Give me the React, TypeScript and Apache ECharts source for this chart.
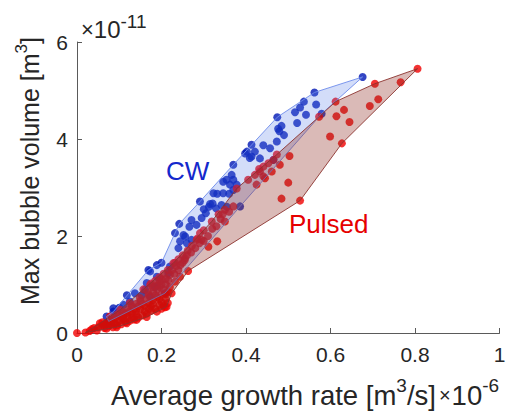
import React, { useEffect, useRef } from "react";
import * as echarts from "echarts";

type Pt = [number, number];

// Axis ticks (x in 1e-6 m^3/s, y in 1e-11 m^3)
const xTickValues = [0, 0.2, 0.4, 0.6, 0.8, 1];
const yTickValues = [0, 2, 4, 6];

// Continuous-wave measurements [growth rate, max volume]
const cwPoints: Pt[] = [
  [0.676, 5.28], [0.562, 4.96], [0.537, 4.77], [0.566, 4.71], [0.528, 4.65], [0.516, 4.55],
  [0.542, 4.5], [0.579, 4.52], [0.521, 4.33], [0.474, 4.45], [0.484, 4.27], [0.476, 4.21],
  [0.49, 4.08], [0.479, 4.16], [0.473, 3.95], [0.457, 3.81], [0.441, 3.87], [0.413, 3.88],
  [0.402, 3.74], [0.421, 3.74], [0.413, 3.64], [0.433, 3.6], [0.465, 3.57], [0.398, 3.7],
  [0.409, 3.61], [0.37, 3.47], [0.366, 3.26], [0.354, 3.16], [0.37, 3.16], [0.346, 3.12],
  [0.362, 3.06], [0.378, 3.06], [0.346, 2.88], [0.332, 2.87], [0.36, 2.87], [0.323, 2.88],
  [0.37, 2.95], [0.291, 2.71], [0.342, 2.64], [0.321, 2.67], [0.329, 2.57], [0.355, 2.6],
  [0.386, 2.61], [0.305, 2.47], [0.295, 2.37], [0.271, 2.33], [0.242, 2.25], [0.266, 2.19],
  [0.283, 2.23], [0.232, 2.06], [0.252, 2.02], [0.244, 1.89], [0.271, 1.92], [0.26, 1.85],
  [0.24, 1.75], [0.256, 1.99], [0.2, 1.45], [0.189, 1.4], [0.169, 1.3], [0.216, 1.23],
  [0.22, 1.37], [0.173, 1.27], [0.189, 1.16], [0.165, 1.03], [0.161, 0.89], [0.137, 0.82],
  [0.118, 0.78], [0.125, 0.65], [0.11, 0.58], [0.1, 0.52], [0.086, 0.51], [0.086, 0.44],
  [0.07, 0.34], [0.075, 0.24], [0.208, 0.82], [0.153, 0.78], [0.173, 0.75], [0.185, 0.95],
  [0.3, 2.55], [0.312, 2.6], [0.315, 2.66],
];

// Pulsed measurements [growth rate, max volume]
const pulsedPoints: Pt[] = [
  [0.806, 5.45], [0.766, 5.17], [0.705, 5.14], [0.713, 4.82], [0.693, 4.68], [0.612, 4.77],
  [0.632, 4.6], [0.614, 4.47], [0.645, 4.35], [0.573, 4.46], [0.599, 4.05], [0.627, 3.91],
  [0.503, 3.65], [0.473, 3.68], [0.465, 3.57], [0.453, 3.5], [0.441, 3.43], [0.48, 3.47],
  [0.461, 3.33], [0.433, 3.33], [0.421, 3.26], [0.405, 3.16], [0.441, 3.23], [0.425, 3.06],
  [0.445, 3.19], [0.5, 3.1], [0.378, 2.98], [0.484, 2.77], [0.528, 2.73], [0.431, 3.38],
  [0.35, 2.54], [0.37, 2.61], [0.319, 2.3], [0.332, 1.89], [0.311, 1.78], [0.291, 2.06],
  [0.283, 1.92], [0.295, 1.92], [0.256, 1.54], [0.263, 1.28], [0.228, 1.44], [0.244, 1.16],
  [0.216, 1.09], [0.196, 1.06], [0.173, 0.99], [0.232, 1.06], [0.224, 0.82], [0.212, 0.54],
  [0, 0],
  [0.157, 0.9], [0.175, 1.02], [0.185, 1.08], [0.195, 1.15], [0.205, 1.22], [0.215, 1.3],
  [0.232, 1.45], [0.24, 1.52], [0.25, 1.6], [0.262, 1.7], [0.272, 1.8], [0.27, 1.66],
  [0.25, 1.45], [0.24, 1.3], [0.23, 1.22], [0.2, 1.1], [0.19, 0.98], [0.21, 1.0],
  [0.22, 1.2], [0.285, 1.95], [0.3, 2.12], [0.335, 2.45], [0.34, 2.35], [0.3, 1.9],
  [0.35, 2.3], [0.36, 2.5],
  [0.18, 0.95], [0.2, 1.0], [0.21, 1.12], [0.225, 1.3], [0.235, 1.38], [0.245, 1.4],
  [0.255, 1.5], [0.26, 1.6], [0.28, 1.75], [0.29, 1.85], [0.31, 2.0], [0.32, 2.15],
  [0.33, 2.2], [0.345, 2.45],
  [0.02, 0.01], [0.03, 0.04], [0.035, 0.08], [0.047, 0.05], [0.05, 0.12], [0.054, 0.2],
  [0.06, 0.16], [0.065, 0.1], [0.07, 0.09], [0.07, 0.2], [0.075, 0.14], [0.078, 0.34],
  [0.08, 0.26], [0.085, 0.12], [0.09, 0.3], [0.09, 0.2], [0.094, 0.12], [0.095, 0.16],
  [0.1, 0.36], [0.1, 0.25], [0.102, 0.48], [0.105, 0.18], [0.11, 0.42], [0.11, 0.3],
  [0.115, 0.22], [0.118, 0.2], [0.12, 0.48], [0.12, 0.35], [0.125, 0.62], [0.125, 0.25],
  [0.13, 0.55], [0.13, 0.4], [0.135, 0.28], [0.14, 0.6], [0.14, 0.45], [0.141, 0.27],
  [0.145, 0.32], [0.149, 0.72], [0.15, 0.66], [0.15, 0.5], [0.155, 0.36], [0.16, 0.56],
  [0.165, 0.33], [0.165, 0.4], [0.168, 0.84], [0.17, 0.78], [0.17, 0.62], [0.175, 0.46],
  [0.18, 0.85], [0.18, 0.68], [0.185, 0.5], [0.189, 0.44], [0.19, 0.9], [0.19, 0.74],
  [0.195, 0.58], [0.196, 0.95], [0.2, 0.8], [0.2, 0.64], [0.205, 0.56], [0.208, 0.53],
  [0.21, 0.7], [0.215, 0.62], [0.215, 0.85], [0.22, 0.95],
  [0.04, 0.1], [0.06, 0.22], [0.065, 0.18], [0.08, 0.18], [0.085, 0.28], [0.095, 0.38],
  [0.105, 0.32], [0.115, 0.4], [0.125, 0.45], [0.13, 0.32], [0.135, 0.5], [0.145, 0.55],
  [0.155, 0.6], [0.16, 0.45], [0.165, 0.7], [0.175, 0.55], [0.18, 0.6], [0.185, 0.78],
  [0.195, 0.7], [0.2, 0.5], [0.205, 0.9], [0.21, 0.8], [0.11, 0.36], [0.14, 0.38],
  [0.17, 0.5],
];

// Boundary vertices enclosing each group (taken from its own points)
const cwOutline: Pt[] = [
  [0.075, 0.24], [0.208, 0.82], [0.386, 2.61], [0.579, 4.52], [0.676, 5.28], [0.562, 4.96],
  [0.474, 4.45], [0.37, 3.47], [0.291, 2.71], [0.242, 2.25], [0.232, 2.06], [0.2, 1.45],
  [0.169, 1.3], [0.086, 0.44], [0.07, 0.34],
];

const pulsedOutline: Pt[] = [
  [0.02, 0.01], [0.094, 0.12], [0.165, 0.33], [0.212, 0.54], [0.224, 0.82], [0.263, 1.28],
  [0.528, 2.73], [0.627, 3.91], [0.806, 5.45], [0.705, 5.14], [0.612, 4.77], [0.573, 4.46],
  [0.473, 3.68], [0.378, 2.98], [0.319, 2.3], [0.228, 1.44], [0.157, 0.9], [0.102, 0.48],
  [0.054, 0.2],
];

const FONT = '"Liberation Sans", Arial, Helvetica, sans-serif';
const INK = "#262626";
const AXIS = "#5a5a5a";

const outlineSeries = (pts: Pt[], fill: string, stroke: string, z: number) => ({
  type: "custom",
  coordinateSystem: "cartesian2d",
  silent: true,
  clip: false,
  z,
  data: [[0, 0]],
  renderItem: (_params: any, api: any) => ({
    type: "polygon",
    shape: { points: pts.map((p) => api.coord(p)) },
    style: { fill, stroke, lineWidth: 1 },
  }),
});

const tickFormatter = (v: number) => String(parseFloat(v.toFixed(1)));

export default function App() {
  const ref = useRef<HTMLDivElement>(null);

  useEffect(() => {
    if (!ref.current) return;
    const chart = echarts.init(ref.current, undefined, { renderer: "svg" });

    const axisCommon = {
      type: "value",
      splitLine: { show: false },
      axisLine: { show: true, lineStyle: { color: AXIS, width: 1 } },
      axisTick: { show: true, inside: true, length: 5, lineStyle: { color: AXIS, width: 1 } },
    };

    chart.setOption({
      animation: false,
      backgroundColor: "#ffffff",
      grid: { left: 77, right: 9.5, top: 42, bottom: 85, containLabel: false },
      xAxis: {
        ...axisCommon,
        min: xTickValues[0],
        max: xTickValues[xTickValues.length - 1],
        interval: xTickValues[1] - xTickValues[0],
        axisLabel: { color: INK, fontSize: 21, fontFamily: FONT, margin: 11, formatter: tickFormatter },
      },
      yAxis: {
        ...axisCommon,
        min: yTickValues[0],
        max: yTickValues[yTickValues.length - 1],
        interval: yTickValues[1] - yTickValues[0],
        axisLabel: { color: INK, fontSize: 21, fontFamily: FONT, margin: 9, formatter: tickFormatter },
      },
      series: [
        { type: "scatter", data: cwPoints, symbolSize: 8, itemStyle: { color: "#0016b4" }, z: 2 },
        { type: "scatter", data: pulsedPoints, symbolSize: 8, itemStyle: { color: "#f00000" }, z: 3 },
        outlineSeries(cwOutline, "rgba(80,120,230,0.25)", "rgba(110,140,235,0.9)", 4),
        outlineSeries(pulsedOutline, "rgba(140,40,30,0.32)", "rgba(140,50,45,0.9)", 5),
      ],
      graphic: [
        {
          type: "text",
          x: 81,
          y: 46,
          style: {
            text: "{t|×}{n|10}{s|-11}",
            verticalAlign: "bottom",
            align: "left",
            rich: {
              t: { fontSize: 22, lineHeight: 34, fontFamily: FONT, fill: INK },
              n: { fontSize: 24, lineHeight: 34, fontFamily: FONT, fill: INK },
              s: { fontSize: 19, lineHeight: 12, fontFamily: FONT, fill: INK, verticalAlign: "top" },
            },
          },
        },
        {
          type: "text",
          x: 111,
          y: 414,
          style: {
            text: "{a|Average growth rate [m}{s|3}{a|/s]}{t|×}{a|10}{s|-6}",
            verticalAlign: "bottom",
            align: "left",
            rich: {
              a: { fontSize: 27.5, lineHeight: 38, fontFamily: FONT, fill: INK },
              t: { fontSize: 20, lineHeight: 38, fontFamily: FONT, fill: INK, padding: [0, 1, 0, 3] },
              s: { fontSize: 19, lineHeight: 12, fontFamily: FONT, fill: INK, verticalAlign: "top" },
            },
          },
        },
        {
          type: "text",
          x: 30,
          y: 171,
          rotation: Math.PI / 2,
          style: {
            text: "{a|Max bubble volume [m}{s|3}{a|]}",
            align: "center",
            verticalAlign: "middle",
            rich: {
              a: { fontSize: 25, lineHeight: 34, fontFamily: FONT, fill: INK },
              s: { fontSize: 17, lineHeight: 12, fontFamily: FONT, fill: INK, verticalAlign: "top" },
            },
          },
        },
        {
          type: "text",
          x: 166,
          y: 171,
          style: {
            text: "CW",
            fontSize: 26,
            fontFamily: FONT,
            fill: "#1428cc",
            align: "left",
            verticalAlign: "middle",
          },
        },
        {
          type: "text",
          x: 289,
          y: 224,
          style: {
            text: "Pulsed",
            fontSize: 26,
            fontFamily: FONT,
            fill: "#e60000",
            align: "left",
            verticalAlign: "middle",
          },
        },
      ],
    });

    return () => chart.dispose();
  }, []);

  return (
    <div
      ref={ref}
      style={{ position: "fixed", left: 0, top: 0, width: 509, height: 418, background: "#fff" }}
    />
  );
}
